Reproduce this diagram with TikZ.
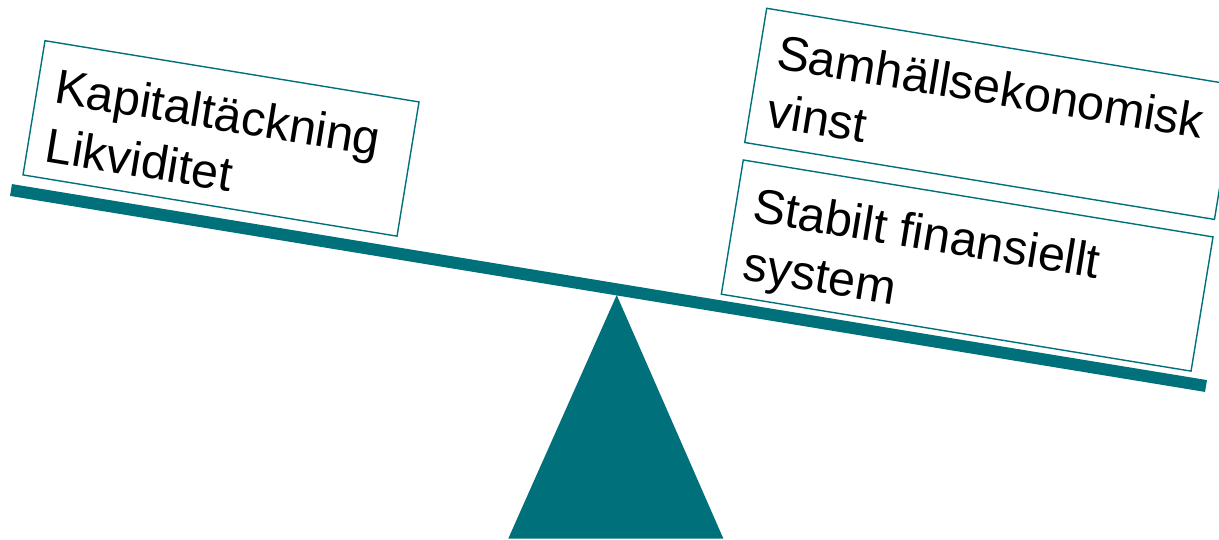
\documentclass[tikz,border=0pt]{standalone}
\usepackage{fontspec}
\setmainfont{Liberation Sans}
\definecolor{tealc}{HTML}{00717B}
\begin{document}
\begin{tikzpicture}[x=1pt,y=-1pt,
  box/.style={draw=tealc, line width=1.4pt, fill=white, rectangle, inner sep=0pt, outer sep=0pt,
              minimum width=#1, minimum height=136pt, anchor=north west, transform shape},
  txt/.style={inner sep=0pt, outer sep=0pt, anchor=north west, align=left, transform shape,
              font=\fontsize{48.5}{59}\selectfont, text=black}]
\useasboundingbox (0,0) rectangle (1219,540);
\clip (0,0) rectangle (1219,540);
% fulcrum
\coordinate (apex) at (616.7,295);
\coordinate (baseL) at (508.3,538.5);
\coordinate (baseR) at (723.3,538.5);
\fill[tealc] (apex) -- (baseL) -- (baseR) -- cycle;
% beam
\coordinate (beamL) at (11,190);
\coordinate (beamR) at (1206,386);
\draw[tealc, line width=12pt] (beamL) -- (beamR);
% left box
\begin{scope}[shift={(45,40.7)}, rotate=-9.3]
  \node[box=379pt] (b1) at (0,0) {};
  \node[txt] (t1) at (18,25) {Kapitaltäckning\\Likviditet};
\end{scope}
% right top box
\begin{scope}[shift={(766.7,8.3)}, rotate=-9.3]
  \node[box=476pt] (b2) at (0,0) {};
  \node[txt] (t2) at (18,23) {Samhällsekonomisk\\vinst};
\end{scope}
% right bottom box
\begin{scope}[shift={(743.3,160)}, rotate=-9.3]
  \node[box=476pt] (b3) at (0,0) {};
  \node[txt] (t3) at (18,24.5) {Stabilt finansiellt\\system};
\end{scope}
\end{tikzpicture}
\end{document}
